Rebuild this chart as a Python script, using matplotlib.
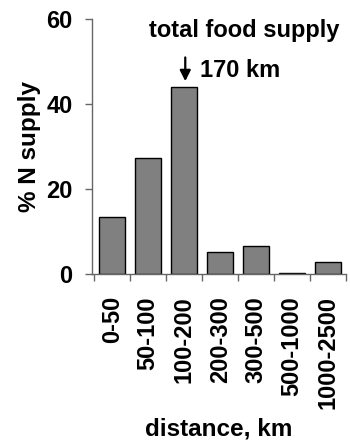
import matplotlib
matplotlib.use("Agg")
import matplotlib.pyplot as plt
import numpy as np

plt.rcParams['font.family'] = ['Liberation Sans', 'DejaVu Sans']
plt.rcParams['font.weight'] = 'bold'

distances = ["0-50", "50-100", "100-200", "200-300", "300-500", "500-1000", "1000-2500"]
n_supply = [13.5, 27.3, 44.1, 5.1, 6.6, 0.25, 2.7]

fig = plt.figure(figsize=(3.5, 4.41), dpi=100)
ax = fig.add_axes([0.263, 0.379, 0.726, 0.578])

x = np.arange(len(distances))
ax.bar(x, n_supply, width=0.72, color="#808080", edgecolor="black", linewidth=1)

ax.set_xlim(-0.56, 6.5)
ax.set_ylim(0, 60)
ax.set_yticks([0, 20, 40, 60])

# labels at bar centres, tick marks between bars
ax.set_xticks(x)
ax.set_xticklabels(distances, rotation=90, fontsize=17, fontweight='bold', va='top')
ax.tick_params(axis='x', which='major', length=0, pad=16)
ax.set_xticks(np.arange(-0.5, 7, 1), minor=True)
ax.tick_params(axis='x', which='minor', length=5, width=1, color="#666666", direction='out')
ax.tick_params(axis='y', length=5, width=1, color="#666666", pad=9, labelsize=17)
for lab in ax.get_yticklabels():
    lab.set_fontweight('bold')

for side in ['top', 'right']:
    ax.spines[side].set_visible(False)
for side in ['left', 'bottom']:
    ax.spines[side].set_color("#666666")
    ax.spines[side].set_linewidth(1)

ax.set_ylabel("% N supply", fontsize=17.5, fontweight='bold', labelpad=4)
ax.set_xlabel("distance, km", fontsize=17.5, fontweight='bold', labelpad=6)

ax.text(0.975, 0.955, "total food supply", transform=ax.transAxes, ha='right', va='center',
        fontsize=17, fontweight='bold')
ax.annotate("", xy=(2.03, 44.7), xytext=(2.03, 51.6),
            arrowprops=dict(arrowstyle='-|>', color='black', lw=1.6, mutation_scale=16))
ax.text(2.45, 47.8, "170 km", ha='left', va='center', fontsize=17, fontweight='bold')

fig.savefig("out.png", dpi=100)
